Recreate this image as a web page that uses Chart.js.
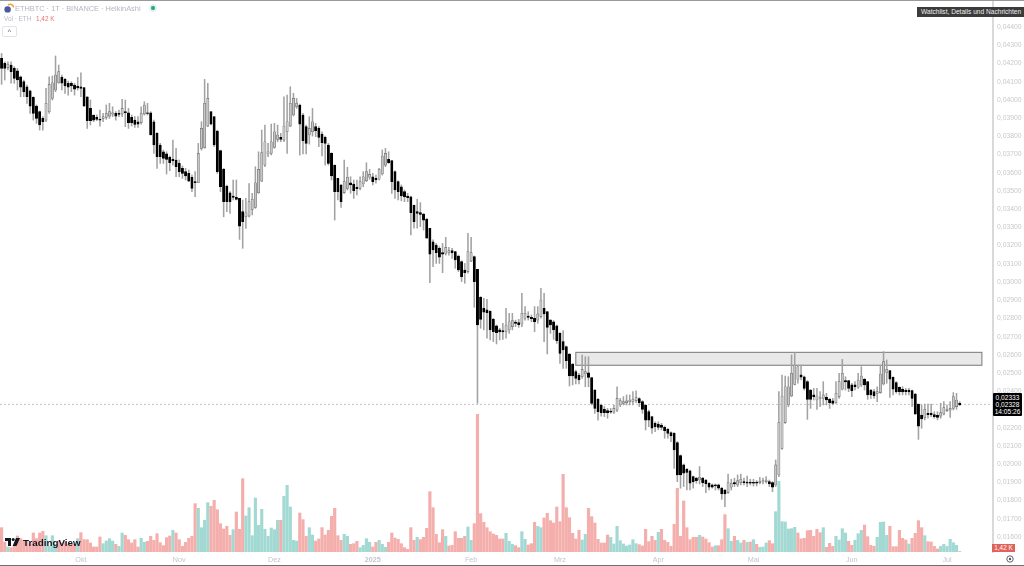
<!DOCTYPE html>
<html>
<head>
<meta charset="utf-8">
<script src="https://cdn.jsdelivr.net/npm/chart.js@4"></script>
<style>
  html, body { margin: 0; padding: 0; background: #fff; overflow: hidden; }
  #wrap { position: relative; width: 1024px; height: 566px; font-family: "Liberation Sans", "Noto Sans", sans-serif; }
  canvas { position: absolute; left: 0; top: 0; }
  .abs { position: absolute; white-space: nowrap; }
  #topline { left: 0; top: 0; width: 1024px; height: 1px; background: #9a9a9a; }
  #botline { left: 0; top: 565px; width: 1024px; height: 1px; background: #6e6e6e; }
  #title { left: 15px; top: 3px; font-size: 7.4px; line-height: 11px; color: #b4b7c0; }
  #vol { left: 4px; top: 14px; font-size: 6.4px; line-height: 10px; color: #b9bbc4; }
  #volval { left: 36px; top: 14px; font-size: 6.4px; line-height: 10px; color: #e8736c; }
  #collapse { left: 2px; top: 26px; width: 13px; height: 9px; border: 1px solid #e2e3e8; border-radius: 2px; font-size: 7px; line-height: 10px; text-align: center; color: #555; }
  #hint { left: 917px; top: 7px; width: 107px; height: 10px; background: #3b3b3b; color: #eee; font-size: 6.6px; line-height: 10px; text-indent: 4px; overflow: hidden; }
  #wm { left: 23px; top: 536px; font-size: 9.8px; line-height: 14px; font-weight: 700; color: #131722; }
  #pricebox { left: 993px; top: 393px; width: 29px; height: 23px; background: #000; border-radius: 1px; color: #fff; font-size: 6.6px; line-height: 7.4px; text-align: center; padding-top: 0.5px; box-sizing: border-box; }
  #voltag { left: 992px; top: 544px; width: 23px; height: 8px; background: #e0625a; color: #fff; font-size: 6.4px; line-height: 8px; text-align: center; }
</style>
</head>
<body>
<div id="wrap">
  <canvas id="chart" width="1024" height="566"></canvas>
  <div class="abs" id="topline"></div>
  <div class="abs" id="botline"></div>
  <svg class="abs" style="left:4px;top:3px" width="10" height="10" viewBox="0 0 10 10">
    <path d="M4 2 A3.4 3.4 0 0 1 9.5 4.5" fill="none" stroke="#f2a33a" stroke-width="1.6"/>
    <circle cx="3.6" cy="6.4" r="3.2" fill="#4a5a9e"/>
  </svg>
  <div class="abs" id="title">ETHBTC · 1T · BINANCE · HeikinAshi</div>
  <svg class="abs" style="left:149px;top:4px" width="8" height="8" viewBox="0 0 8 8">
    <circle cx="4" cy="4" r="3.8" fill="#d9f0ea"/><circle cx="4" cy="4" r="2" fill="#2f9e83"/>
  </svg>
  <div class="abs" id="vol">Vol · ETH</div>
  <div class="abs" id="volval">1,42 K</div>
  <div class="abs" id="collapse">^</div>
  <div class="abs" id="hint">Watchlist, Details und Nachrichten</div>
  <svg class="abs" style="left:5px;top:538px" width="15" height="8" viewBox="0 0 15 8">
    <path d="M0 0H6V8H3V3H0Z" fill="#131722"/><circle cx="8.2" cy="1.5" r="1.5" fill="#131722"/>
    <path d="M11 0H15L11.5 8H7.6Z" fill="#131722"/>
  </svg>
  <div class="abs" id="wm">TradingView</div>
  <div class="abs" id="pricebox">0,02333<br>0,02328<br>14:05:26</div>
  <div class="abs" id="voltag">1,42 K</div>
  <svg class="abs" style="left:1006px;top:555px" width="8" height="8" viewBox="0 0 8 8">
    <circle cx="4" cy="4" r="3.2" fill="none" stroke="#555" stroke-width="0.9"/><circle cx="4" cy="4" r="1.2" fill="#555"/>
  </svg>
</div>

<script>
// prices are in 0.00001 BTC. One value per day, 6 Sep to 5 Jul
const opens = [
  4228,4200,4177,4191,4173,4160,4127,4100,4072,4050, 4014,3966,3935,3898,3889,3935,4008,4054,4094,4123,
  4112,4091,4091,4081,4076,4072,4067,4017,3953,3917, 3904,3893,3897,3904,3911,3922,3926,3926,3922,3935,
  3929,3904,3889,3880,3875,3922,3929,3929,3880,3816, 3752,3715,3703,3684,3673,3670,3651,3624,3606,3596,
  3574,3551,3545,3734,3737,3856,3935,3908,3829,3721, 3618,3527,3490,3472,3465,3459,3386,3358,3362,3399,
  3410,3490,3554,3642,3703,3706,3739,3783,3794,3779, 3825,3856,3917,3962,3972,3917,3853,3807,3825,3853,
  3843,3812,3794,3752,3706,3642,3569,3533,3491,3514, 3545,3538,3520,3514,3538,3556,3575,3578,3569,3564,
  3593,3642,3673,3666,3606,3551,3523,3496,3472,3468, 3421,3386,3381,3373,3344,3295,3221,3203,3185,3161,
  3157,3161,3172,3167,3143,3112,3066,3057,3115,3139, 3070,2916,2856,2847,2839,2795,2759,2737,2733,2727,
  2737,2755,2780,2777,2770,2801,2813,2806,2801,2791, 2810,2856,2837,2791,2782,2759,2718,2673,2645,2605,
  2550,2508,2489,2480,2495,2502,2475,2407,2356,2325, 2301,2294,2292,2286,2297,2325,2334,2338,2343,2343,
  2349,2360,2343,2325,2288,2261,2224,2220,2215,2202, 2191,2173,2169,2118,2047,1996,1972,1963,1932,1923,
  1913,1923,1913,1895,1886,1886,1886,1868,1858,1844, 1873,1899,1886,1899,1904,1902,1902,1900,1902,1899,
  1902,1904,1904,1899,1886,1941,2087,2228,2325,2374, 2438,2466,2490,2480,2453,2407,2380,2352,2361,2361,
  2367,2356,2347,2337,2371,2411,2459,2459,2435,2435, 2422,2435,2466,2453,2407,2398,2389,2393,2440,2503,
  2514,2477,2448,2422,2411,2407,2407,2404,2385,2330, 2270,2257,2279,2279,2272,2268,2264,2275,2294,2297,
  2306,2316,2334
];
const closes = [
  4173,4173,4195,4155,4118,4109,4069,4045,4017,3966, 3926,3898,3862,3880,3981,4085,4094,4136,4155,4091,
  4076,4069,4076,4058,4065,4063,3966,3886,3886,3889, 3893,3889,3908,3926,3935,3929,3911,3920,3953,3929,
  3875,3875,3865,3867,3926,3972,3926,3807,3752,3688, 3688,3679,3673,3655,3666,3633,3606,3596,3582,3554,
  3514,3545,3706,3843,3981,4008,3867,3752,3606,3523, 3441,3441,3441,3465,3454,3307,3331,3380,3441,3454,
  3545,3618,3710,3770,3715,3770,3825,3807,3783,3856, 3880,3981,4008,3981,3867,3776,3761,3843,3880,3831,
  3794,3765,3761,3651,3582,3496,3496,3441,3551,3575, 3533,3501,3512,3551,3578,3606,3591,3551,3560,3619,
  3692,3706,3655,3551,3505,3496,3472,3468,3463,3381, 3331,3377,3371,3340,3240,3153,3176,3161,3136,3153,
  3190,3172,3161,3121,3066,3029,3051,3167,3161,3002, 2764,2795,2835,2832,2737,2727,2722,2726,2726,2764,
  2782,2788,2773,2766,2828,2828,2806,2799,2782,2825, 2901,2825,2751,2764,2737,2678,2608,2627,2568,2484,
  2484,2471,2462,2520,2508,2476,2334,2306,2288,2282, 2282,2282,2285,2306,2361,2349,2343,2347,2352,2356,
  2365,2338,2301,2242,2242,2197,2206,2202,2202,2184, 2169,2155,2078,1941,1941,1950,1954,1895,1904,1910,
  1928,1899,1891,1873,1873,1880,1868,1836,1836,1899, 1895,1891,1910,1917,1899,1895,1895,1895,1895,1906,
  1910,1913,1891,1873,1996,2228,2374,2425,2425,2499, 2544,2535,2477,2416,2356,2356,2371,2374,2367,2380,
  2352,2337,2334,2389,2453,2499,2451,2416,2404,2425, 2462,2484,2435,2380,2380,2374,2398,2495,2563,2521,
  2466,2411,2398,2398,2396,2398,2396,2361,2275,2209, 2248,2301,2272,2270,2261,2257,2283,2310,2301,2306,
  2371,2352,2326
];
const highs = [
  4255,4209,4209,4209,4182,4173,4131,4109,4081,4054, 4017,3972,3939,3908,4063,4127,4131,4241,4191,4136,
  4118,4103,4100,4091,4123,4149,4069,4017,3999,3917, 3917,3944,3926,3972,3981,3962,3935,3944,4003,3999,
  3953,3917,3908,3908,3962,3990,3981,3935,3889,3820, 3761,3724,3715,3692,3779,3734,3670,3637,3624,3615,
  3587,3606,3761,3880,4112,4091,3935,3908,3834,3724, 3624,3532,3496,3560,3560,3459,3450,3459,3541,3487,
  3633,3715,3834,3862,3761,3867,3871,3862,3816,4017, 4026,4072,4036,4008,3977,3926,3862,3908,3953,3871,
  3853,3825,3801,3761,3710,3642,3569,3533,3670,3630, 3578,3560,3560,3578,3606,3655,3619,3597,3587,3624,
  3725,3734,3715,3666,3611,3556,3533,3505,3487,3472, 3423,3454,3436,3377,3350,3295,3231,3212,3194,3212,
  3245,3190,3185,3167,3148,3117,3102,3267,3245,3143, 3070,2920,2911,2905,2843,2801,2764,2746,2773,2856,
  2828,2828,2791,2795,2938,2865,2837,2819,2865,2865, 2965,2938,2837,2795,2788,2764,2722,2733,2649,2608,
  2553,2517,2499,2599,2590,2590,2476,2411,2361,2330, 2316,2306,2306,2325,2425,2361,2371,2380,2380,2398,
  2402,2365,2349,2325,2297,2261,2233,2233,2224,2209, 2197,2178,2173,2124,2051,2001,1977,1968,1935,1928,
  1987,1928,1917,1899,1891,1891,1891,1873,1862,1946, 1917,1923,1941,1946,1923,1935,1917,1917,1910,1928,
  1923,1932,1913,1904,2023,2398,2489,2484,2480,2600, 2612,2544,2544,2484,2459,2411,2416,2416,2398,2453,
  2389,2361,2361,2453,2499,2575,2480,2459,2444,2453, 2499,2535,2471,2453,2411,2411,2425,2544,2618,2572,
  2514,2480,2453,2425,2425,2416,2416,2407,2389,2330, 2325,2330,2330,2330,2288,2288,2334,2343,2325,2343,
  2393,2389,2343
];
const lows = [
  4085,4109,4164,4091,4091,4054,4017,4017,3981,3926, 3889,3871,3834,3834,3880,3926,3999,4045,4091,4054,
  4036,4026,4045,4026,4054,4017,3966,3843,3862,3880, 3886,3856,3880,3893,3898,3908,3889,3908,3908,3853,
  3843,3856,3849,3849,3867,3917,3917,3807,3706,3624, 3651,3651,3593,3611,3642,3578,3578,3569,3560,3551,
  3496,3468,3545,3724,3734,3853,3862,3743,3596,3496, 3358,3386,3377,3450,3450,3234,3185,3294,3358,3368,
  3404,3487,3551,3633,3688,3697,3734,3770,3770,3770, 3706,3853,3911,3953,3697,3703,3703,3757,3801,3798,
  3743,3692,3642,3642,3560,3340,3450,3410,3487,3505, 3487,3459,3478,3505,3523,3551,3564,3533,3542,3560,
  3587,3633,3651,3487,3459,3450,3446,3441,3441,3258, 3295,3295,3304,3285,3240,2996,3084,3102,3102,3051,
  3148,3148,3130,3075,3057,3002,2993,3048,3112,2861, 2334,2746,2737,2691,2682,2673,2660,2682,2685,2691,
  2718,2737,2755,2751,2755,2791,2791,2782,2727,2773, 2801,2673,2605,2718,2685,2663,2553,2526,2526,2429,
  2435,2440,2440,2471,2425,2425,2325,2279,2242,2264, 2261,2252,2279,2279,2288,2316,2325,2325,2325,2325,
  2338,2316,2279,2188,2206,2169,2178,2188,2188,2142, 2142,2124,1977,1904,1868,1877,1858,1858,1868,1895,
  1891,1877,1844,1858,1868,1858,1858,1807,1767,1840, 1858,1877,1877,1886,1886,1877,1886,1880,1880,1891,
  1891,1895,1877,1849,1877,1931,2081,2224,2315,2370, 2435,2444,2462,2407,2246,2306,2352,2301,2316,2325,
  2325,2306,2325,2334,2361,2407,2407,2398,2371,2407, 2416,2425,2407,2356,2361,2361,2343,2389,2435,2444,
  2367,2380,2389,2380,2380,2380,2380,2316,2275,2136, 2197,2243,2252,2261,2252,2243,2252,2270,2288,2257,
  2297,2301,2321
];

// volume in thousands of ETH
const volumes = [
  73,30,15,13,17,48,40,35,33,25, 57,40,57,62,49,17,49,23,33,27,
  30,23,23,23,40,58,37,37,27,15, 15,45,25,33,40,33,23,17,57,50,
  37,27,37,15,41,29,32,47,35,55, 28,19,43,48,65,57,37,17,29,41,
  47,145,131,73,95,148,137,155,127,85, 69,77,50,67,120,68,220,108,133,49,
  162,80,128,68,47,72,67,95,95,167, 200,135,35,33,117,97,47,73,51,33,
  39,73,51,65,107,131,49,35,53,47, 23,25,32,13,20,40,29,15,29,35,
  23,14,29,57,42,38,25,13,8,73, 35,44,37,44,71,181,133,53,28,67,
  47,18,20,61,41,41,47,75,35,85, 413,115,89,73,61,54,50,39,39,56,
  32,23,19,13,61,38,21,25,89,77, 73,102,116,94,87,135,91,233,133,103,
  56,39,65,36,53,131,106,87,38,27, 27,51,44,24,77,34,24,18,21,37,
  25,22,18,68,31,47,35,59,68,35, 29,17,83,191,47,153,73,37,44,44,
  50,45,39,28,15,19,19,37,112,70, 32,47,35,27,35,29,30,37,23,14,
  15,27,34,25,121,212,91,90,69,70, 74,57,39,41,64,65,47,68,58,73,
  14,26,17,47,36,70,57,32,20,35, 55,65,81,46,20,17,44,89,90,50,
  77,16,16,65,41,36,24,41,56,94, 73,49,31,30,17,9,17,23,17,38,
  28,20,1.42
];
// 1 = teal (up day), 0 = red (down day)
const volumeUp = [
  0,0,1,0,0,0,0,0,0,0, 0,0,0,0,1,1,1,1,0,0,
  0,0,0,0,1,0,0,0,0,0, 0,0,1,1,1,1,0,1,1,0,
  0,0,0,0,1,1,0,0,0,0, 0,0,0,0,1,0,0,0,0,0,
  0,0,1,1,1,1,0,0,0,0, 0,0,0,1,0,0,0,1,1,1,
  1,1,1,1,1,1,1,1,0,1, 1,1,1,1,0,0,0,1,1,0,
  0,0,0,0,0,0,0,0,1,1, 0,0,0,1,1,1,1,0,0,1,
  1,1,0,0,0,0,0,0,0,0, 0,1,0,0,0,0,0,0,0,0,
  1,0,0,0,0,0,0,1,1,0, 0,0,0,0,0,0,0,0,0,1,
  1,1,0,0,1,1,0,0,0,1, 1,0,0,0,0,0,0,0,0,0,
  0,0,0,1,1,0,0,0,0,0, 0,0,1,1,1,1,1,1,1,1,
  1,0,0,0,0,0,0,1,0,0, 0,0,0,0,0,0,0,0,0,0,
  1,0,0,0,0,1,0,0,0,1, 1,0,1,1,0,1,0,1,0,1,
  1,1,0,0,1,1,1,1,1,1, 1,0,0,0,0,0,0,0,0,1,
  0,0,0,1,1,1,1,0,0,1, 1,1,0,0,0,0,1,1,1,1,
  0,0,0,0,0,0,1,0,0,0, 0,1,0,0,0,0,1,1,1,1,
  1,1,0
];

// x axis: 313 daily slots, the last ones stay empty
const SLOTS = 313;
const monthSlots = [25, 56, 86, 117, 148, 176, 207, 237, 268, 298];
const monthNames = ['Okt', 'Nov', 'Dez', '2025', 'Feb', 'Mrz', 'Apr', 'Mai', 'Jun', 'Jul'];
const priceTicks = [4400,4300,4200,4100,4000,3900,3800,3700,3600,3500,3400,3300,3200,3100,3000,
  2900,2800,2700,2600,2500,2400,2300,2200,2100,2000,1900,1800,1700,1600];

const ZONE_START = 181, ZONE_END = 309, ZONE_HIGH = 2614, ZONE_LOW = 2543;
const LAST_PRICE = 2328;

const categories = Array.from({ length: SLOTS }, (_, i) => {
  const m = monthSlots.indexOf(i);
  return m >= 0 ? monthNames[m] : '';
});

const isUp = i => closes[i] > opens[i];

const overlay = {
  id: 'overlay',
  beforeDatasetsDraw(chart) {
    const { ctx, scales: { x, y }, chartArea } = chart;
    const py = y.getPixelForValue(LAST_PRICE);
    ctx.save();
    ctx.strokeStyle = '#c4c4c4';
    ctx.lineWidth = 1;
    ctx.setLineDash([2, 2]);
    ctx.beginPath();
    ctx.moveTo(chartArea.left, py);
    ctx.lineTo(chartArea.right, py);
    ctx.stroke();
    ctx.setLineDash([]);
    const x0 = x.getPixelForValue(ZONE_START), x1 = x.getPixelForValue(ZONE_END);
    const y0 = y.getPixelForValue(ZONE_HIGH), y1 = y.getPixelForValue(ZONE_LOW);
    ctx.fillStyle = '#e9e9e9';
    ctx.strokeStyle = '#777';
    ctx.fillRect(x0, y0, x1 - x0, y1 - y0);
    ctx.strokeRect(x0, y0, x1 - x0, y1 - y0);
    ctx.restore();
  }
};

// no room kept around the plot for the outermost tick labels
const noPad = s => { s.paddingTop = 0; s.paddingBottom = 0; s.paddingLeft = 0; s.paddingRight = 0; };

new Chart(document.getElementById('chart'), {
  type: 'bar',
  plugins: [overlay],
  data: {
    labels: categories,
    datasets: [
      {
        label: 'Vol',
        yAxisID: 'yVol',
        data: volumes,
        backgroundColor: volumeUp.map(u => u ? '#a3d9d3' : '#f4aeab'),
        barThickness: 2.5,
        order: 3,
      },
      {
        label: 'Wick',
        yAxisID: 'y',
        data: lows.map((l, i) => [l, highs[i]]),
        backgroundColor: '#a2a2a2',
        barThickness: 0.9,
        order: 2,
      },
      {
        label: 'Body',
        yAxisID: 'y',
        data: opens.map((o, i) => [o, closes[i]]),
        backgroundColor: opens.map((o, i) => isUp(i) ? '#c6c6c6' : '#000'),
        borderColor: opens.map((o, i) => isUp(i) ? '#6f6f6f' : '#000'),
        borderWidth: 0.6,
        borderSkipped: false,
        barThickness: 2.3,
        order: 1,
      },
    ],
  },
  options: {
    responsive: false,
    animation: false,
    layout: { padding: 0, autoPadding: false },
    datasets: { bar: { grouped: false } },
    plugins: { legend: { display: false }, tooltip: { enabled: false } },
    scales: {
      x: {
        grid: { display: false, drawTicks: false },
        border: { display: false },
        offset: true,
        afterFit: s => { s.height = 14; noPad(s); },
        ticks: {
          autoSkip: false,
          maxRotation: 0,
          padding: 4,
          color: '#c3c5cc',
          font: ctx => ({ family: 'Liberation Sans', size: 7.2, weight: ctx.tick && ctx.tick.label === '2025' ? '700' : '400' }),
        },
      },
      y: {
        position: 'right',
        min: 1517.75,
        max: 4548.2,
        grid: { display: false, drawTicks: false },
        border: { display: true, color: '#d9d9d9', width: 2 },
        afterFit: s => { s.width = 31; noPad(s); },
        afterBuildTicks: s => { s.ticks = priceTicks.map(v => ({ value: v })); },
        ticks: {
          autoSkip: false,
          padding: 4,
          color: '#c6c8ce',
          font: { family: 'Liberation Sans', size: 6.8 },
          callback: v => '0,0' + v,
        },
      },
      yVol: {
        display: false,
        min: 0,
        max: 1656,
      },
    },
  },
});
</script>
</body>
</html>
